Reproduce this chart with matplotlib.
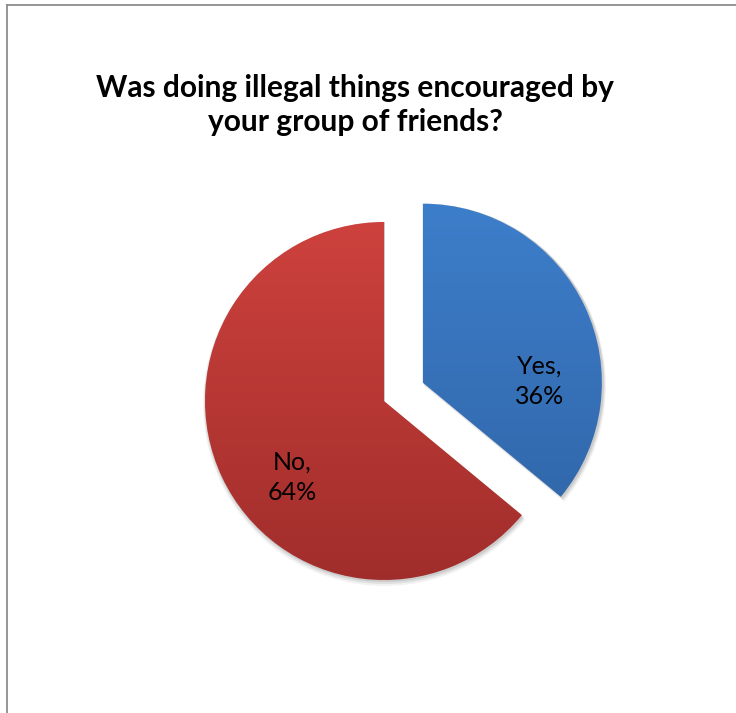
import numpy as np
import matplotlib.pyplot as plt
from matplotlib.colors import LinearSegmentedColormap

# Data
labels = ['Yes', 'No']
values = [36, 64]
explode = [0.24, 0]
top_colors = ['#3e80cd', '#d3443f']
bottom_colors = ['#2d5f9f', '#9b2b29']

W, H = 736, 713
fig = plt.figure(figsize=(W / 100, H / 100), dpi=100)
ax = fig.add_axes([0, 0, 1, 1])

cx, cy, r = 384, H - 401, 179
expl_px = [e * r for e in explode]  # pie uses data units for explode

# soft shadow under the slices
for k, a in [(6, 0.05), (4, 0.07), (2, 0.09)]:
    ax.pie(values, explode=expl_px, startangle=90, counterclock=False,
           center=(cx + 1, cy - k / 2), radius=r + k / 2,
           colors=['#000000'] * 2, wedgeprops=dict(alpha=a, linewidth=0))

wedges, _ = ax.pie(values, explode=expl_px, startangle=90, counterclock=False,
                   center=(cx, cy), radius=r,
                   colors=['none', 'none'], wedgeprops=dict(linewidth=0))

# vertical gradient fill clipped to each wedge
grad = np.linspace(0, 1, 256).reshape(-1, 1)
for w, c0, c1 in zip(wedges, top_colors, bottom_colors):
    cmap = LinearSegmentedColormap.from_list('g', [c1, c0])
    bb = w.get_path().get_extents()
    x0, x1 = bb.x0, bb.x1
    y0, y1 = cy - r - 45, cy + r + 45
    im = ax.imshow(grad, cmap=cmap, extent=(x0 - 60, x1 + 60, y0, y1),
                   origin='lower', aspect='auto', zorder=2)
    im.set_clip_path(w)

ax.set_xlim(0, W)
ax.set_ylim(0, H)
ax.set_aspect('auto')
ax.axis('off')

# data labels
ax.text(540, H - 381, f'{labels[0]},\n{values[0]}%', ha='center', va='center',
        fontsize=18, family='Lato', linespacing=1.4, zorder=5)
ax.text(292, H - 477, f'{labels[1]},\n{values[1]}%', ha='center', va='center',
        fontsize=18, family='Lato', linespacing=1.4, zorder=5)

# title
ax.text(355, H - 105, 'Was doing illegal things encouraged by\nyour group of friends?',
        ha='center', va='center', fontsize=21.5, fontweight='bold', family='Lato',
        linespacing=1.3, zorder=5)

# chart border (left and top visible)
ax.plot([6.5, 6.5], [0, H - 4], color='#8e8e8e', lw=1.3, solid_capstyle='butt', clip_on=False)
ax.plot([6, W], [H - 4.5, H - 4.5], color='#8e8e8e', lw=1.3, solid_capstyle='butt', clip_on=False)

fig.savefig('out.png', dpi=100)
